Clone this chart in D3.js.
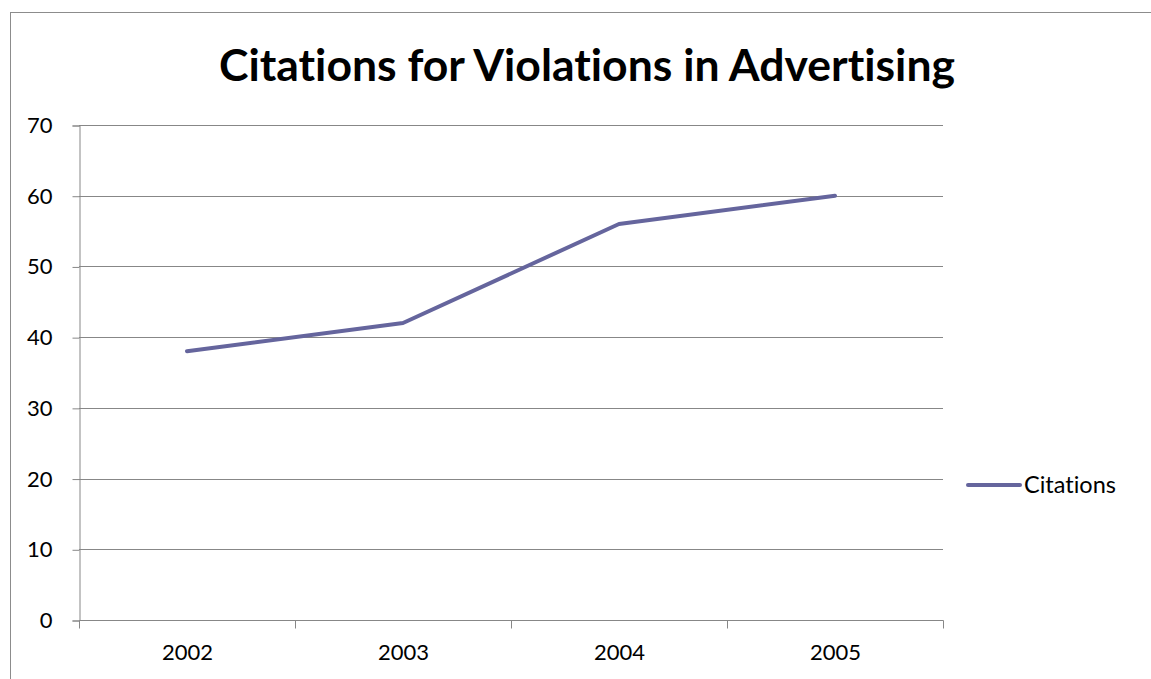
<!DOCTYPE html>
<html><head><meta charset="utf-8">
<script src="https://cdn.jsdelivr.net/npm/d3@7"></script>
<style>body{margin:0;background:#fff;} svg{display:block;font-family:Lato,"Open Sans",sans-serif;font-variant-ligatures:none;font-feature-settings:"liga" 0,"clig" 0;}</style>
</head><body><svg id="c" width="1151" height="679"></svg>
<script>
const title = "Citations for Violations in Advertising";
const categories = ["2002","2003","2004","2005"];
const values = [38,42,56,60];
const yTicks = [0,10,20,30,40,50,60,70];
const seriesName = "Citations";

const svg = d3.select("#c");
svg.append("rect").attr("x",10.5).attr("y",12.5).attr("width",1200).attr("height",700)
  .attr("fill","none").attr("stroke","#8c8c8c").attr("stroke-width",1);

const L=79,R=943,T=125,B=620;
const x = d3.scaleBand().domain(categories).range([L,R]);
const y = d3.scaleLinear().domain([0,70]).range([B,T]);

// gridlines
svg.append("g").selectAll("line").data(yTicks.filter(d=>d>0)).join("line")
  .attr("x1",L).attr("x2",R).attr("y1",d=>Math.round(y(d))+0.5).attr("y2",d=>Math.round(y(d))+0.5)
  .attr("stroke","#878787").attr("stroke-width",1);

// y axis
const ya = svg.append("g").attr("transform",`translate(${L+0.5},0.5)`)
  .call(d3.axisLeft(y).tickValues(yTicks).tickSize(7).tickPadding(20));
ya.select(".domain").attr("stroke","#878787");
ya.selectAll(".tick line").attr("stroke","#878787");
ya.selectAll("text").attr("font-size",22).attr("fill","#000").attr("font-family","Lato,sans-serif");

// x axis
const xa = svg.append("g").attr("transform",`translate(0.5,${B+0.5})`)
  .call(d3.axisBottom(x).tickSize(0).tickPadding(24));
xa.select(".domain").attr("stroke","#878787").attr("d",`M${L},0H${R}`);
xa.selectAll("text").attr("font-size",22).attr("fill","#000").attr("font-family","Lato,sans-serif");
const bounds = [L, ...categories.map(c=>x(c)+x.bandwidth())];
xa.append("g").selectAll("line").data(bounds).join("line")
  .attr("x1",d=>Math.round(d)).attr("x2",d=>Math.round(d)).attr("y1",0).attr("y2",8)
  .attr("stroke","#878787");

// line
const line = d3.line().x((d,i)=>x(categories[i])+x.bandwidth()/2).y(d=>y(d));
svg.append("path").datum(values).attr("d",line).attr("fill","none")
  .attr("stroke","#65659d").attr("stroke-width",4).attr("stroke-linecap","round").attr("stroke-linejoin","round");

// title
svg.append("text").attr("x",587).attr("y",81).attr("text-anchor","middle")
  .attr("font-size",44.5).attr("font-weight","bold").attr("fill","#000").text(title);

// legend
svg.append("line").attr("x1",968).attr("x2",1020).attr("y1",485).attr("y2",485)
  .attr("stroke","#65659d").attr("stroke-width",4).attr("stroke-linecap","round");
svg.append("text").attr("x",1024).attr("y",493).attr("font-size",23.5).attr("fill","#000").text(seriesName);
</script></body></html>
